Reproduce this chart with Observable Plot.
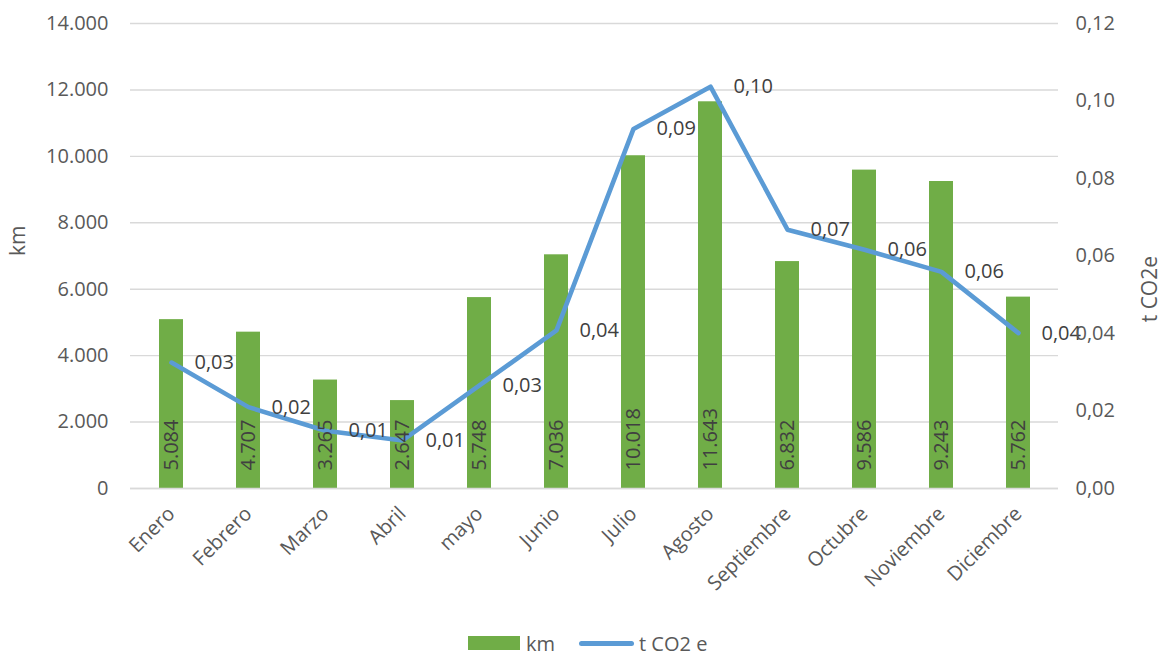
<!DOCTYPE html>
<html>
<head>
<meta charset="utf-8">
<script src="https://cdn.jsdelivr.net/npm/d3@7"></script>
<script src="https://cdn.jsdelivr.net/npm/@observablehq/plot@0.6"></script>
<style>
  body { margin: 0; background: #fff; font-family: "Open Sans", sans-serif; overflow: hidden; }
  #wrap { position: relative; width: 1164px; height: 655px; }
  #legend { position: absolute; left: 468px; top: 630px; height: 26px; display: flex; align-items: center; font-size: 20px; color: #595959; }
  .item { display: flex; align-items: center; }
  .sw-bar { width: 52px; height: 14px; background: #70AD47; margin-right: 6px; }
  .sw-line { width: 55px; height: 5px; border-radius: 3px; background: #5B9BD5; margin-right: 5px; margin-left: 24px; }
</style>
</head>
<body>
<div id="wrap">
  <div id="chart"></div>
  <div id="legend">
    <div class="item"><div class="sw-bar"></div><span>km</span></div>
    <div class="item"><div class="sw-line"></div><span>t CO2 e</span></div>
  </div>
</div>
<script>
const months = ["Enero","Febrero","Marzo","Abril","mayo","Junio","Julio","Agosto","Septiembre","Octubre","Noviembre","Diciembre"];
const km = [5084, 4707, 3265, 2647, 5748, 7036, 10018, 11643, 6832, 9586, 9243, 5762];
const co2 = [0.0325, 0.0210, 0.0149, 0.0124, 0.0266, 0.0408, 0.0928, 0.1037, 0.0668, 0.0616, 0.0559, 0.0401];
const kmTicks = [0, 2000, 4000, 6000, 8000, 10000, 12000, 14000];
const co2Ticks = [0, 0.02, 0.04, 0.06, 0.08, 0.10, 0.12];

const kmMax = 14000, co2Max = 0.12;
const toKm = v => v * kmMax / co2Max;
const loc = d3.formatLocale({decimal: ",", thousands: ".", grouping: [3], currency: ["", "€"]});
const fmtKm = loc.format(",.0f");
const fmtCo2 = v => v.toFixed(2).replace(".", ",");

const data = months.map((m, i) => ({month: m, km: km[i], co2: co2[i], co2k: toKm(co2[i])}));

const chart = Plot.plot({
  width: 1164,
  height: 620,
  marginTop: 23,
  marginBottom: 132,
  marginLeft: 130,
  marginRight: 106,
  style: {fontFamily: "Open Sans", fontSize: "20px", color: "#595959", background: "#fff"},
  x: {domain: months, paddingInner: 0.69, paddingOuter: 0.345},
  y: {domain: [0, kmMax]},
  marks: [
    Plot.gridY(kmTicks, {stroke: "#d9d9d9", strokeOpacity: 1, strokeWidth: 1.4}),
    Plot.barY(data, {x: "month", y: "km", fill: "#70AD47"}),
    Plot.ruleY([0], {stroke: "#d9d9d9", strokeWidth: 1.4}),
    Plot.line(data, {x: "month", y: "co2k", stroke: "#5B9BD5", strokeWidth: 4.6, strokeLinejoin: "round", strokeLinecap: "round"}),
    Plot.text(data, {x: "month", y: 0, text: d => fmtKm(d.km), rotate: -90, textAnchor: "start", dy: -18, fill: "#404040", fontSize: 20}),
    Plot.text(data, {x: "month", y: "co2k", text: d => fmtCo2(d.co2), textAnchor: "start", dx: 23, fill: "#404040", fontSize: 20}),
    Plot.axisY(kmTicks, {anchor: "left", tickSize: 0, tickPadding: 22, tickFormat: fmtKm, label: null, fill: "#595959"}),
    Plot.axisY(co2Ticks.map(toKm), {anchor: "right", tickSize: 0, tickPadding: 17, tickFormat: d => fmtCo2(d * co2Max / kmMax), label: null, fill: "#595959"}),
    Plot.axisX({tickSize: 0, tickRotate: -45, tickPadding: 22, label: null, fill: "#595959"}),
    Plot.text(["km"], {frameAnchor: "left", dx: -112, rotate: -90, fill: "#595959", fontSize: 21}),
    Plot.text(["t CO2e"], {frameAnchor: "right", dx: 92, rotate: -90, fill: "#595959", fontSize: 21})
  ]
});
document.getElementById("chart").appendChild(chart);
</script>
</body>
</html>
